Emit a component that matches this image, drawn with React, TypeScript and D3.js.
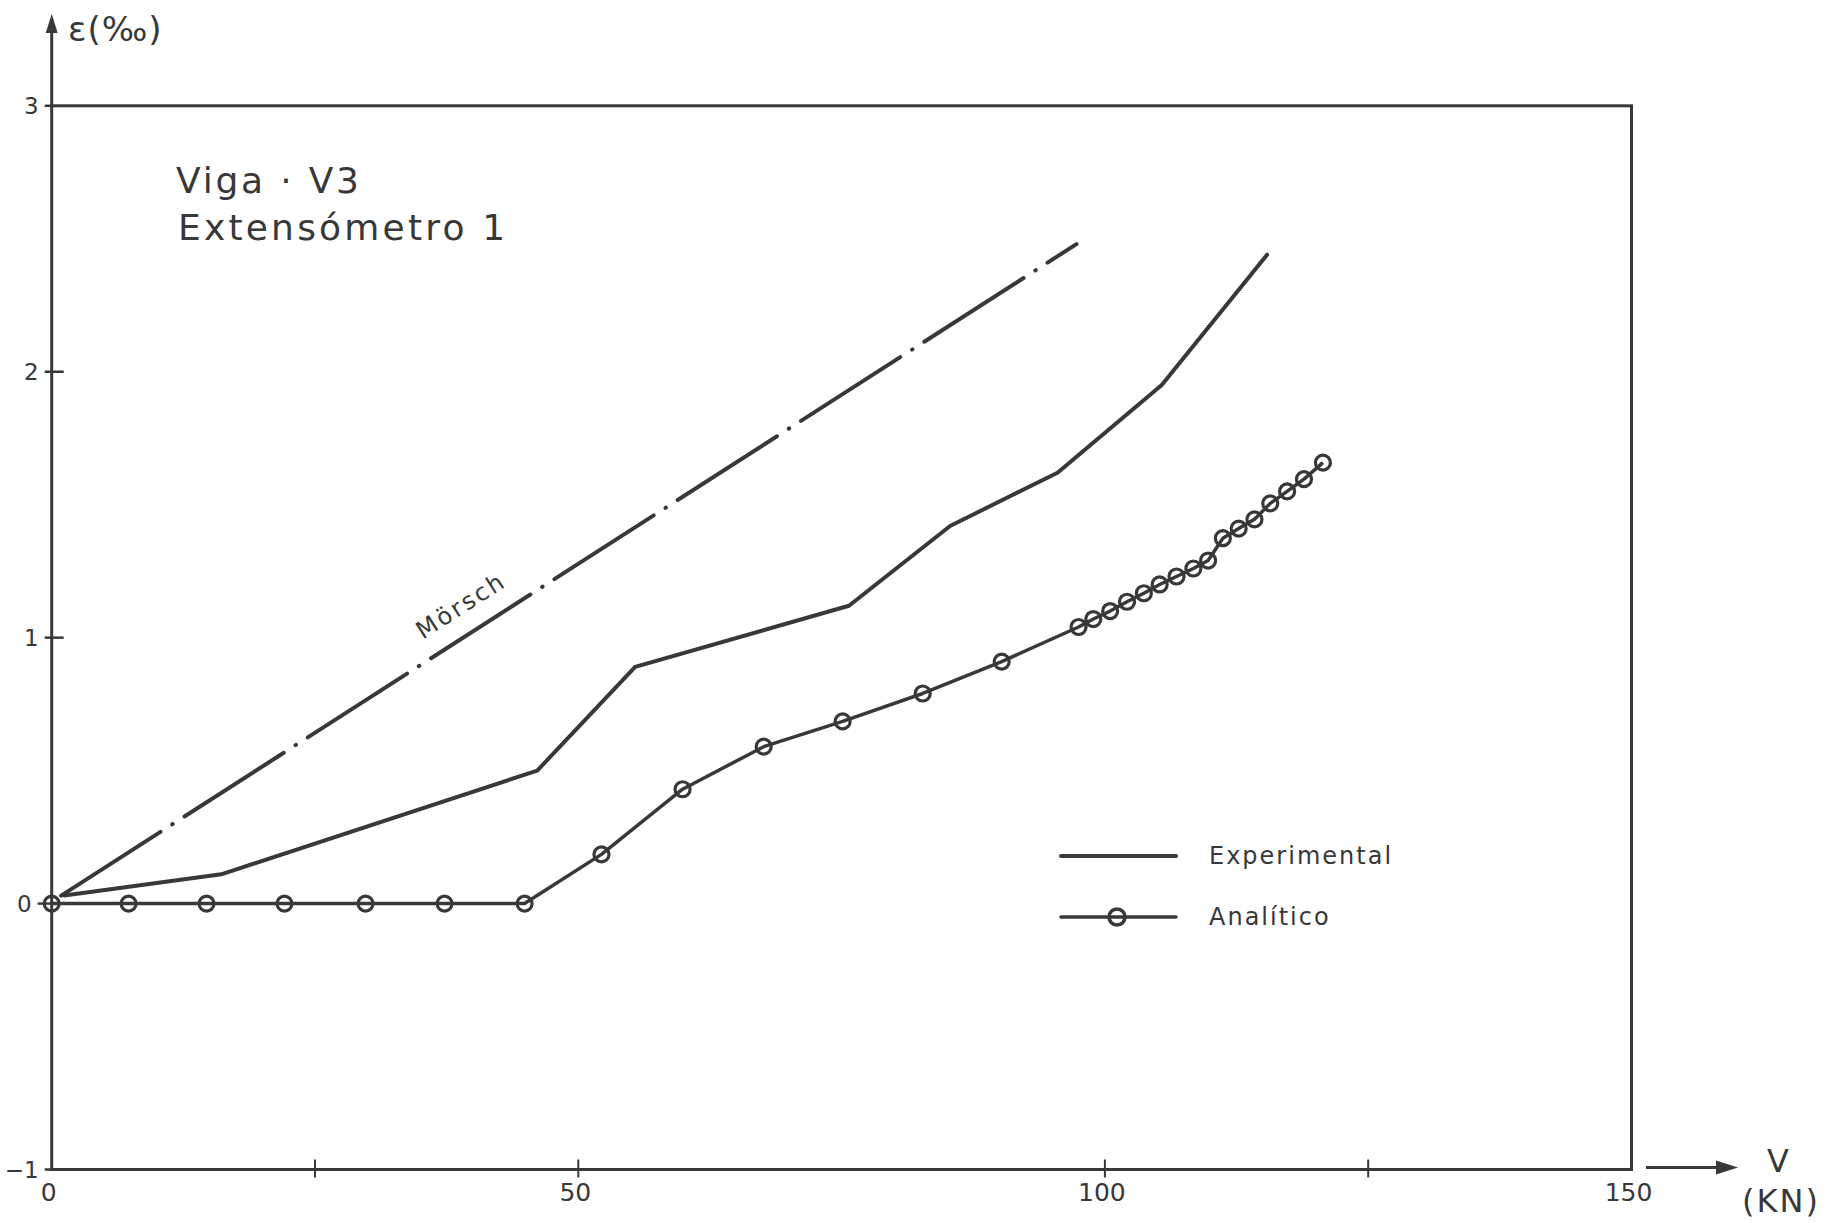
import React from "react";
import * as d3 from "d3";

// ---- data ----
const morschV = [0.9, 97.3];
const morschE = [0.03, 2.48];

const expV = [1.2, 16.1, 46.1, 55.4, 75.7, 85.3, 95.5, 105.4, 115.4];
const expE = [0.03, 0.11, 0.5, 0.89, 1.12, 1.42, 1.62, 1.95, 2.44];

const anaV = [
  0, 7.3, 14.7, 22.1, 29.8, 37.3, 44.9, 52.2, 59.9, 67.6, 75.1, 82.7, 90.2,
  97.5, 98.9, 100.5, 102.1, 103.7, 105.2, 106.8, 108.4, 109.8, 111.2, 112.7,
  114.2, 115.7, 117.3, 118.9, 120.7,
];
const anaE = [
  0, 0, 0, 0, 0, 0, 0, 0.185, 0.43, 0.59, 0.685, 0.79, 0.91,
  1.04, 1.07, 1.1, 1.135, 1.167, 1.2, 1.23, 1.26, 1.29, 1.374, 1.41,
  1.445, 1.505, 1.55, 1.596, 1.658,
];

const yTicks = [-1, 0, 1, 2, 3];
const yTickLabels = ["−1", "0", "1", "2", "3"];
const xTickMarks = [25, 50, 100, 125];
const xLabelTicks = [0, 50, 100, 150];
const xTickLabels = ["0", "50", "100", "150"];

const titleLines = ["Viga · V3", "Extensómetro 1"];
const legendLabels = ["Experimental", "Analítico"];
const morschLabel = "Mörsch";
const morschLabelAt = 40.3;
const yAxisTitle = "ɛ(‰)";
const xAxisTitle = ["V", "(KN)"];

const INK = "#383838";
const FONT = "'DejaVu Sans', sans-serif";

export default function App() {
  const x = d3.scaleLinear().domain([0, 150]).range([51.7, 1631.5]);
  const y = d3.scaleLinear().domain([-1, 3]).range([1169.5, 105.8]);

  const line = d3
    .line<[number, number]>()
    .x((d) => x(d[0]))
    .y((d) => y(d[1]));

  const morschPts = morschV.map((v, i) => [v, morschE[i]] as [number, number]);
  const expPts = expV.map((v, i) => [v, expE[i]] as [number, number]);
  const anaPts = anaV.map((v, i) => [v, anaE[i]] as [number, number]);

  // Mörsch label placement along its line
  const slope = (morschE[1] - morschE[0]) / (morschV[1] - morschV[0]);
  const le = morschE[0] + slope * (morschLabelAt - morschV[0]);
  const lx = x(morschLabelAt);
  const ly = y(le);
  const dx = x(morschV[1]) - x(morschV[0]);
  const dy = y(morschE[1]) - y(morschE[0]);
  const ang = (Math.atan2(dy, dx) * 180) / Math.PI;
  const len = Math.hypot(dx, dy);
  const nx = dy / len;
  const ny = -dx / len;
  const off = 20;

  const x0 = x(0);
  const x150 = x(150);
  const yTop = y(3);
  const yBot = y(-1);

  return (
    <svg
      width={1843}
      height={1223}
      style={{ position: "absolute", left: 0, top: 0, background: "#fff" }}
      fontFamily={FONT}
    >
      {/* frame */}
      <rect
        x={x0}
        y={yTop}
        width={x150 - x0}
        height={yBot - yTop}
        fill="none"
        stroke={INK}
        strokeWidth={3}
      />
      {/* y axis arrow */}
      <line x1={x0} y1={yTop} x2={x0} y2={28} stroke={INK} strokeWidth={3} />
      <path d={`M${x0},14 L${x0 - 6},33 L${x0 + 6},33 Z`} fill={INK} />
      <text x={68} y={41} fontSize={34} fill={INK} letterSpacing={1}>
        {yAxisTitle}
      </text>

      {/* x axis arrow */}
      <line x1={1646} y1={yBot - 2} x2={1720} y2={yBot - 2} stroke={INK} strokeWidth={3} />
      <path d={`M${1738},${yBot - 2} L${1716},${yBot - 9} L${1716},${yBot + 5} Z`} fill={INK} />
      <text x={1778} y={1172} fontSize={32} fill={INK} textAnchor="middle">
        {xAxisTitle[0]}
      </text>
      <text x={1781} y={1212} fontSize={32} fill={INK} textAnchor="middle" letterSpacing={2}>
        {xAxisTitle[1]}
      </text>

      {/* y ticks */}
      {yTicks.map((t, i) => {
        const inner = t === 1 || t === 2 ? 12 : 0;
        const outer = t === 0 ? 14 : 7;
        return (
          <g key={"yt" + t}>
            <line
              x1={x0 - outer}
              x2={x0 + inner}
              y1={y(t)}
              y2={y(t)}
              stroke={INK}
              strokeWidth={2.5}
            />
            <text
              x={x0 - outer - 6}
              y={y(t)}
              dy="0.36em"
              fontSize={23}
              fill={INK}
              textAnchor="end"
            >
              {yTickLabels[i]}
            </text>
          </g>
        );
      })}

      {/* x ticks */}
      {xTickMarks.map((t) => (
        <line
          key={"xt" + t}
          x1={x(t)}
          x2={x(t)}
          y1={yBot - 10}
          y2={yBot + 8}
          stroke={INK}
          strokeWidth={2}
        />
      ))}
      {xLabelTicks.map((t, i) => (
        <text
          key={"xl" + t}
          x={x(t) - 3}
          y={1201}
          fontSize={25}
          fill={INK}
          textAnchor="middle"
        >
          {xTickLabels[i]}
        </text>
      ))}

      {/* title */}
      <text x={176} y={193} fontSize={36} fill={INK} letterSpacing={2.8}>
        {titleLines[0]}
      </text>
      <text x={178} y={240} fontSize={36} fill={INK} letterSpacing={3.2}>
        {titleLines[1]}
      </text>

      {/* Mörsch dash-dot */}
      <path
        d={line(morschPts) || ""}
        fill="none"
        stroke={INK}
        strokeWidth={4}
        strokeLinecap="round"
        strokeDasharray="118 14 0.5 14"
      />
      <text
        x={lx + nx * off}
        y={ly + ny * off}
        fontSize={24}
        fill={INK}
        textAnchor="middle"
        letterSpacing={2.5}
        transform={`rotate(${ang} ${lx + nx * off} ${ly + ny * off})`}
      >
        {morschLabel}
      </text>

      {/* Experimental */}
      <path
        d={line(expPts) || ""}
        fill="none"
        stroke={INK}
        strokeWidth={4}
        strokeLinejoin="round"
        strokeLinecap="round"
      />

      {/* Analitico */}
      <path
        d={line(anaPts) || ""}
        fill="none"
        stroke={INK}
        strokeWidth={3.5}
        strokeLinejoin="round"
      />
      {anaPts.map((p, i) => (
        <circle
          key={"c" + i}
          cx={x(p[0])}
          cy={y(p[1])}
          r={7.5}
          fill="none"
          stroke={INK}
          strokeWidth={3.2}
        />
      ))}

      {/* legend */}
      <line x1={1061} x2={1176} y1={856} y2={856} stroke={INK} strokeWidth={4} strokeLinecap="round" />
      <text x={1209} y={864} fontSize={24} fill={INK} letterSpacing={2}>
        {legendLabels[0]}
      </text>
      <line x1={1061} x2={1176} y1={917} y2={917} stroke={INK} strokeWidth={3.5} strokeLinecap="round" />
      <circle cx={1117} cy={917} r={8} fill="none" stroke={INK} strokeWidth={3.5} />
      <text x={1209} y={925} fontSize={24} fill={INK} letterSpacing={2}>
        {legendLabels[1]}
      </text>
    </svg>
  );
}
